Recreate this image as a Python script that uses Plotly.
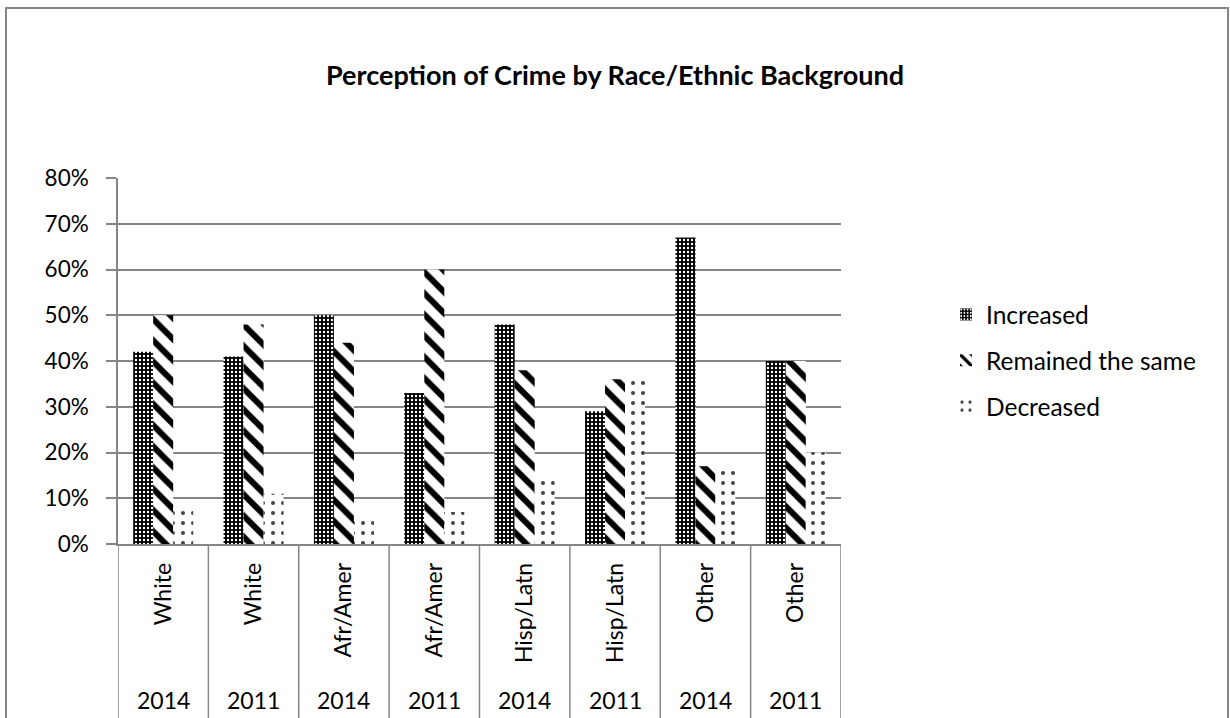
import plotly.graph_objects as go

# ---- data ----
races = ["White", "White", "Afr/Amer", "Afr/Amer", "Hisp/Latn", "Hisp/Latn", "Other", "Other"]
years = ["2014", "2011", "2014", "2011", "2014", "2011", "2014", "2011"]
increased = [0.42, 0.41, 0.50, 0.33, 0.48, 0.29, 0.67, 0.40]
remained = [0.50, 0.48, 0.44, 0.60, 0.38, 0.36, 0.17, 0.40]
decreased = [0.08, 0.11, 0.06, 0.07, 0.14, 0.36, 0.17, 0.20]
series_names = ["Increased", "Remained the same", "Decreased"]
title_text = "Perception of Crime by Race/Ethnic Background"

cats = [f"{r} {y}" for r, y in zip(races, years)]

W, H = 1230, 718
L, R, T, B = 118, 841, 178, 544
GRID = "#868686"
FONT = "Lato"


def px_x(px):
    return (px - L) / (R - L)


def px_y(py):
    return (B - py) / (B - T)


fig = go.Figure()

patterns = [
    dict(shape=".", bgcolor="black", fgcolor="white", size=4, solidity=0.28, fillmode="replace"),
    dict(shape="\\", bgcolor="white", fgcolor="black", size=15, solidity=0.4, fillmode="replace"),
    dict(shape=".", bgcolor="white", fgcolor="#444444", size=10, solidity=0.13, fillmode="replace"),
]
colors = ["black", "black", "#444444"]

for i, (name, vals) in enumerate(zip(series_names, [increased, remained, decreased])):
    fig.add_trace(go.Bar(
        x=cats, y=vals, name=name, legendgroup=name,
        marker=dict(color=colors[i], pattern=patterns[i], line=dict(width=0)),
    ))

shapes = []
# chart border (bottom is cut off)
shapes.append(dict(type="rect", xref="paper", yref="paper",
                   x0=px_x(6), x1=px_x(1228), y0=px_y(740), y1=px_y(8),
                   line=dict(color=GRID, width=2), fillcolor="rgba(0,0,0,0)", layer="below"))
# category separators
for i in range(len(cats) + 1):
    shapes.append(dict(type="line", xref="x", yref="paper",
                       x0=i - 0.5, x1=i - 0.5, y0=0, y1=px_y(740),
                       line=dict(color=GRID, width=1.5)))

annotations = []
for i, yr in enumerate(years):
    annotations.append(dict(x=cats[i], xref="x", yref="paper", y=px_y(700),
                            text=yr, showarrow=False, yanchor="middle", xanchor="center",
                            font=dict(family=FONT, size=23, color="black")))

fig.update_layout(
    width=W, height=H,
    margin=dict(l=L, r=W - R, t=T, b=H - B, pad=0),
    paper_bgcolor="white", plot_bgcolor="white",
    barmode="group", bargap=0.336, bargroupgap=0,
    title=dict(text=f"<b>{title_text}</b>", x=0.5, xref="container", xanchor="center",
               y=1 - 76 / H, yref="container", yanchor="middle",
               font=dict(family=FONT, size=27, color="black")),
    font=dict(family=FONT, color="black"),
    xaxis=dict(type="category", tickvals=cats, ticktext=races, tickangle=-90,
               tickfont=dict(family=FONT, size=23, color="black"),
               showline=True, linecolor=GRID, linewidth=1.5,
               ticks="outside", ticklen=8, tickcolor="rgba(0,0,0,0)",
               showgrid=False, range=[-0.5, len(cats) - 0.5]),
    yaxis=dict(range=[0, 0.8], dtick=0.1, tickformat=".0%",
               tickfont=dict(family=FONT, size=22.5, color="black"),
               showgrid=True, gridcolor=GRID, gridwidth=1.5,
               showline=True, linecolor=GRID, linewidth=1.5,
               ticks="outside", ticklen=10, tickcolor=GRID, tickwidth=1.5,
               ticklabelstandoff=13, zeroline=False),
    legend=dict(x=px_x(946), xanchor="left", y=px_y(292), yanchor="top",
                font=dict(family=FONT, size=24.5, color="black"),
                tracegroupgap=11, bgcolor="rgba(0,0,0,0)"),
    shapes=shapes, annotations=annotations,
)

fig.write_html("out.html")
